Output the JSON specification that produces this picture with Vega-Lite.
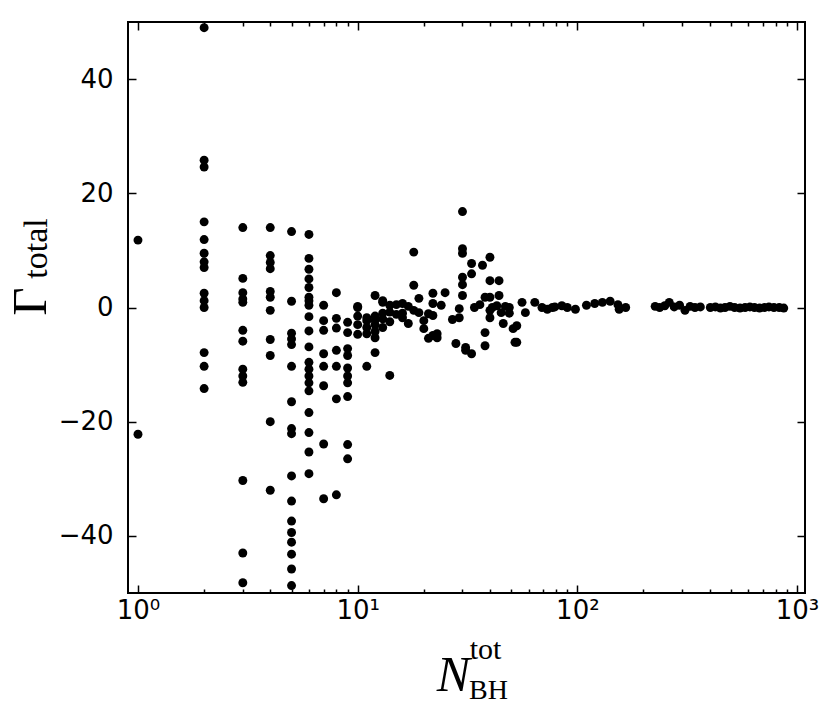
{
  "$schema": "https://vega.github.io/schema/vega-lite/v6.json",
  "width": 677,
  "height": 571,
  "autosize": "none",
  "padding": {"left": 128, "top": 22, "right": 25, "bottom": 117},
  "background": "white",
  "config": {
    "view": {"stroke": "black", "strokeWidth": 2},
    "axis": {"grid": false, "domain": false, "labelFont": "DejaVu Sans", "labelFontSize": 26, "labelColor": "black", "tickColor": "black", "titleColor": "black", "titleFontWeight": "normal"}
  },
  "datasets": {
    "pts": [
      {"N": 1, "G": 11.8}, {"N": 1, "G": -22.2},
      {"N": 2, "G": 49}, {"N": 2, "G": 25.8}, {"N": 2, "G": 24.6}, {"N": 2, "G": 15}, {"N": 2, "G": 11.9}, {"N": 2, "G": 9.5}, {"N": 2, "G": 8}, {"N": 2, "G": 7}, {"N": 2, "G": 2.5}, {"N": 2, "G": 1.2}, {"N": 2, "G": 0}, {"N": 2, "G": -7.9}, {"N": 2, "G": -10.3}, {"N": 2, "G": -14.2},
      {"N": 3, "G": 14}, {"N": 3, "G": 5.1}, {"N": 3, "G": 2.6}, {"N": 3, "G": 1.5}, {"N": 3, "G": 0.9}, {"N": 3, "G": -4}, {"N": 3, "G": -5.9}, {"N": 3, "G": -10.8}, {"N": 3, "G": -12}, {"N": 3, "G": -13.1}, {"N": 3, "G": -30.3}, {"N": 3, "G": -43}, {"N": 3, "G": -48.2},
      {"N": 4, "G": 14}, {"N": 4, "G": 9.1}, {"N": 4, "G": 7.9}, {"N": 4, "G": 6.8}, {"N": 4, "G": 2.8}, {"N": 4, "G": 1.8}, {"N": 4, "G": -0.5}, {"N": 4, "G": -5.6}, {"N": 4, "G": -8.4}, {"N": 4, "G": -20}, {"N": 4, "G": -32},
      {"N": 5, "G": 13.3}, {"N": 5, "G": 1.1}, {"N": 5, "G": -4.5}, {"N": 5, "G": -5.5}, {"N": 5, "G": -6.5}, {"N": 5, "G": -10.3}, {"N": 5, "G": -16.5}, {"N": 5, "G": -21.2}, {"N": 5, "G": -22.1}, {"N": 5, "G": -29.5}, {"N": 5, "G": -33.9}, {"N": 5, "G": -37.4}, {"N": 5, "G": -39.4}, {"N": 5, "G": -41.1}, {"N": 5, "G": -43.2}, {"N": 5, "G": -45.8}, {"N": 5, "G": -48.7},
      {"N": 6, "G": 12.8}, {"N": 6, "G": 8.6}, {"N": 6, "G": 6.7}, {"N": 6, "G": 5.0}, {"N": 6, "G": 3.5}, {"N": 6, "G": 1.8}, {"N": 6, "G": 1.2}, {"N": 6, "G": 0.4}, {"N": 6, "G": -1.6}, {"N": 6, "G": -4.1}, {"N": 6, "G": -6.9}, {"N": 6, "G": -9.6}, {"N": 6, "G": -10.8}, {"N": 6, "G": -12.0}, {"N": 6, "G": -13.2}, {"N": 6, "G": -14.6}, {"N": 6, "G": -18.4}, {"N": 6, "G": -21.9}, {"N": 6, "G": -25.3}, {"N": 6, "G": -29.1},
      {"N": 7, "G": 0.4}, {"N": 7, "G": -2.3}, {"N": 7, "G": -4}, {"N": 7, "G": -8.1}, {"N": 7, "G": -10.3}, {"N": 7, "G": -13.7}, {"N": 7, "G": -23.9}, {"N": 7, "G": -33.5},
      {"N": 8, "G": 2.6}, {"N": 8, "G": -1.9}, {"N": 8, "G": -3.6}, {"N": 8, "G": -7.5}, {"N": 8, "G": -10.3}, {"N": 8, "G": -16}, {"N": 8, "G": -32.8},
      {"N": 9, "G": -2.6}, {"N": 9, "G": -4.4}, {"N": 9, "G": -7.2}, {"N": 9, "G": -8.4}, {"N": 9, "G": -10.6}, {"N": 9, "G": -12}, {"N": 9, "G": -13.2}, {"N": 9, "G": -15.6}, {"N": 9, "G": -24}, {"N": 9, "G": -26.5},
      {"N": 10, "G": 0.2}, {"N": 10, "G": 0}, {"N": 10, "G": -1.5}, {"N": 10, "G": -3}, {"N": 10, "G": -4.7},
      {"N": 11, "G": -1.8}, {"N": 11, "G": -2.3}, {"N": 11, "G": -3.5}, {"N": 11, "G": -4.6}, {"N": 11, "G": -10.3},
      {"N": 12, "G": 2.1}, {"N": 12, "G": -1.5}, {"N": 12, "G": -2.2}, {"N": 12, "G": -3}, {"N": 12, "G": -4.2}, {"N": 12, "G": -5.3}, {"N": 12, "G": -7.9},
      {"N": 13, "G": 1.2}, {"N": 13, "G": 0.9}, {"N": 13, "G": -1}, {"N": 13, "G": -2}, {"N": 13, "G": -3.5},
      {"N": 14, "G": 0.4}, {"N": 14, "G": -0.8}, {"N": 14, "G": -2.5}, {"N": 14, "G": -11.9},
      {"N": 15, "G": 0.5}, {"N": 15, "G": -1.2},
      {"N": 16, "G": 0.7}, {"N": 16, "G": -1}, {"N": 16, "G": -1.8},
      {"N": 17, "G": -2.8}, {"N": 17, "G": 0.2},
      {"N": 18, "G": 9.7}, {"N": 18, "G": 3.9}, {"N": 18, "G": -0.5},
      {"N": 19, "G": 1.6}, {"N": 19, "G": -0.9},
      {"N": 20, "G": -2.3}, {"N": 20, "G": -3.7},
      {"N": 21, "G": -1.1}, {"N": 21, "G": -5.4},
      {"N": 22, "G": 2.5}, {"N": 22, "G": 0.7}, {"N": 22, "G": -1.4}, {"N": 22, "G": -4.9},
      {"N": 23, "G": -4.6}, {"N": 23, "G": -5.3},
      {"N": 24, "G": 0.4}, {"N": 25, "G": 2.6}, {"N": 27, "G": -2.1}, {"N": 28, "G": -6.3},
      {"N": 29, "G": -0.2}, {"N": 29, "G": -1.8},
      {"N": 30, "G": 16.8}, {"N": 30, "G": 10.3}, {"N": 30, "G": 9.5}, {"N": 30, "G": 5.3}, {"N": 30, "G": 4}, {"N": 30, "G": 2.1},
      {"N": 31, "G": -7}, {"N": 31, "G": -7.5},
      {"N": 33, "G": 7.7}, {"N": 33, "G": 5.9}, {"N": 33, "G": -8.1},
      {"N": 34, "G": 0}, {"N": 36, "G": 0.5}, {"N": 37, "G": 7.4},
      {"N": 38, "G": 1.8}, {"N": 38, "G": -4.4}, {"N": 38, "G": -6.7},
      {"N": 40, "G": 8.8}, {"N": 40, "G": 4.7}, {"N": 40, "G": 1.8}, {"N": 40, "G": -0.5}, {"N": 40, "G": -1.8},
      {"N": 41, "G": 0}, {"N": 43, "G": 0.3},
      {"N": 44, "G": 4.7}, {"N": 44, "G": 2.1},
      {"N": 45, "G": -0.9}, {"N": 46, "G": -2.8}, {"N": 47, "G": 0.2},
      {"N": 49, "G": 0}, {"N": 49, "G": -1},
      {"N": 51, "G": -3.7}, {"N": 52, "G": -6.1}, {"N": 53, "G": -3.2}, {"N": 53, "G": -6.1},
      {"N": 56, "G": 0.9}, {"N": 58, "G": -0.9}, {"N": 64, "G": 0.9},
      {"N": 69, "G": 0}, {"N": 73, "G": -0.3}, {"N": 77, "G": 0}, {"N": 79, "G": 0.1}, {"N": 85, "G": 0.3}, {"N": 90, "G": 0}, {"N": 98, "G": -0.3},
      {"N": 110, "G": 0.4}, {"N": 120, "G": 0.7}, {"N": 130, "G": 0.9}, {"N": 141, "G": 1.1}, {"N": 153, "G": 0.5}, {"N": 155, "G": -0.3}, {"N": 166, "G": 0},
      {"N": 226, "G": 0.2}, {"N": 237, "G": 0}, {"N": 250, "G": 0.3}, {"N": 262, "G": 0.9}, {"N": 276, "G": 0.1}, {"N": 292, "G": 0.4}, {"N": 309, "G": -0.5}, {"N": 326, "G": 0.2}, {"N": 343, "G": 0}, {"N": 363, "G": 0.1},
      {"N": 403, "G": 0}, {"N": 425, "G": 0.1}, {"N": 448, "G": -0.1}, {"N": 470, "G": 0}, {"N": 495, "G": 0.2}, {"N": 520, "G": 0}, {"N": 550, "G": -0.1}, {"N": 580, "G": 0}, {"N": 610, "G": 0.1}, {"N": 640, "G": 0}, {"N": 675, "G": -0.1}, {"N": 710, "G": 0}, {"N": 745, "G": 0.1}, {"N": 785, "G": 0}, {"N": 830, "G": 0}, {"N": 870, "G": -0.1}
    ]
  },
  "data": {"name": "pts"},
  "layer": [
    {
      "mark": {"type": "circle", "size": 80, "color": "black", "opacity": 1},
      "encoding": {
        "x": {"field": "N", "type": "quantitative", "scale": {"type": "log", "domain": [0.9006, 1087], "nice": false},
          "axis": {"orient": "bottom", "values": [1,2,3,4,5,6,7,8,9,10,20,30,40,50,60,70,80,90,100,200,300,400,500,600,700,800,900,1000],
            "tickSize": {"condition": {"test": "datum.value==1||datum.value==10||datum.value==100||datum.value==1000", "value": -8}, "value": -4},
            "tickWidth": 1.5,
            "labelExpr": "datum.value==1?'10⁰':datum.value==10?'10¹':datum.value==100?'10²':datum.value==1000?'10³':''",
            "labelOverlap": false, "labelFlush": false, "labelPadding": 12,
            "title": "N", "titleFont": "Liberation Serif", "titleFontStyle": "italic", "titleFontSize": 50,
            "titleX": 325, "titleY": 97, "titleAlign": "center", "titleBaseline": "alphabetic"}},
        "y": {"field": "G", "type": "quantitative", "scale": {"domain": [-50, 50], "nice": false},
          "axis": {"orient": "left", "values": [-40, -20, 0, 20, 40], "tickSize": -8, "tickWidth": 1.5, "labelPadding": 23,
            "title": "Γ", "titleFont": "Liberation Serif", "titleFontSize": 49, "titleAngle": 270,
            "titleX": -83, "titleY": 279, "titleAlign": "center", "titleBaseline": "alphabetic"}}
      }
    },
    {
      "mark": {"type": "circle", "size": 80, "opacity": 0},
      "encoding": {
        "x": {"field": "N", "type": "quantitative", "scale": {"type": "log", "domain": [0.9006, 1087], "nice": false},
          "axis": {"orient": "top", "values": [1,2,3,4,5,6,7,8,9,10,20,30,40,50,60,70,80,90,100,200,300,400,500,600,700,800,900,1000],
            "tickSize": {"condition": {"test": "datum.value==1||datum.value==10||datum.value==100||datum.value==1000", "value": -8}, "value": -4},
            "tickWidth": 1.5, "labels": false, "title": null}},
        "y": {"field": "G", "type": "quantitative", "scale": {"domain": [-50, 50], "nice": false},
          "axis": {"orient": "right", "values": [-40, -20, 0, 20, 40], "tickSize": -8, "tickWidth": 1.5, "labels": false, "title": null}}
      }
    },
    {
      "mark": {"type": "circle", "size": 80, "opacity": 0},
      "encoding": {
        "x": {"field": "N", "type": "quantitative", "scale": {"type": "log", "domain": [0.9006, 1087], "nice": false},
          "axis": {"orient": "bottom", "ticks": false, "labels": false,
            "title": "tot", "titleFont": "Liberation Serif", "titleFontSize": 30,
            "titleX": 357, "titleY": 65, "titleAlign": "center", "titleBaseline": "alphabetic"}},
        "y": {"field": "G", "type": "quantitative", "scale": {"domain": [-50, 50], "nice": false},
          "axis": {"orient": "left", "ticks": false, "labels": false,
            "title": "total", "titleFont": "Liberation Serif", "titleFontSize": 34, "titleAngle": 270,
            "titleX": -82, "titleY": 226, "titleAlign": "center", "titleBaseline": "alphabetic"}}
      }
    },
    {
      "mark": {"type": "circle", "size": 80, "opacity": 0},
      "encoding": {
        "x": {"field": "N", "type": "quantitative", "scale": {"type": "log", "domain": [0.9006, 1087], "nice": false},
          "axis": {"orient": "bottom", "ticks": false, "labels": false,
            "title": "BH", "titleFont": "Liberation Serif", "titleFontSize": 28,
            "titleX": 360, "titleY": 105, "titleAlign": "center", "titleBaseline": "alphabetic"}},
        "y": {"field": "G", "type": "quantitative", "scale": {"domain": [-50, 50], "nice": false}, "axis": null}
      }
    }
  ],
  "resolve": {"axis": {"x": "independent", "y": "independent"}}
}
